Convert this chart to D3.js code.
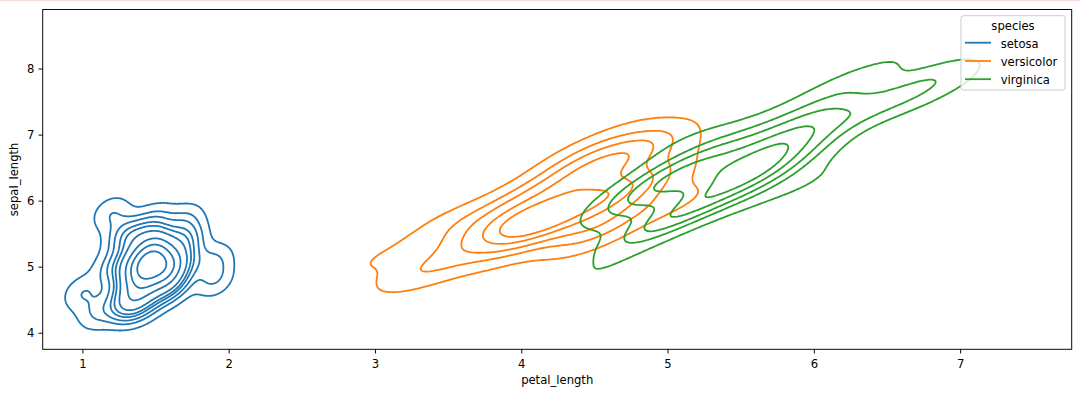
<!DOCTYPE html>
<html>
<head>
<meta charset="utf-8">
<script src="https://cdn.jsdelivr.net/npm/d3@7"></script>
<style>
  html, body { margin: 0; padding: 0; background: #fff; }
  svg { display: block; }
  text { font-family: "DejaVu Sans", sans-serif; fill: #000; }
</style>
</head>
<body>
<svg id="chart" width="1080" height="396"></svg>
<script>
// ---- Data: iris petal_length / sepal_length by species ----
const speciesNames = ["setosa", "versicolor", "virginica"];
const speciesColors = ["#1f77b4", "#ff7f0e", "#2ca02c"];

const setosaPetal = [1.4,1.4,1.3,1.5,1.4,1.7,1.4,1.5,1.4,1.5,1.5,1.6,1.4,1.1,1.2,1.5,1.3,1.4,1.7,1.5,1.7,1.5,1.0,1.7,1.9,1.6,1.6,1.5,1.4,1.6,1.6,1.5,1.5,1.4,1.5,1.2,1.3,1.4,1.3,1.5,1.3,1.3,1.3,1.6,1.9,1.4,1.6,1.4,1.5,1.4];
const setosaSepal = [5.1,4.9,4.7,4.6,5.0,5.4,4.6,5.0,4.4,4.9,5.4,4.8,4.8,4.3,5.8,5.7,5.4,5.1,5.7,5.1,5.4,5.1,4.6,5.1,4.8,5.0,5.0,5.2,5.2,4.7,4.8,5.4,5.2,5.5,4.9,5.0,5.5,4.9,4.4,5.1,5.0,4.5,4.4,5.0,5.1,4.8,5.1,4.6,5.3,5.0];

const versicolorPetal = [4.7,4.5,4.9,4.0,4.6,4.5,4.7,3.3,4.6,3.9,3.5,4.2,4.0,4.7,3.6,4.4,4.5,4.1,4.5,3.9,4.8,4.0,4.9,4.7,4.3,4.4,4.8,5.0,4.5,3.5,3.8,3.7,3.9,5.1,4.5,4.5,4.7,4.4,4.1,4.0,4.4,4.6,4.0,3.3,4.2,4.2,4.2,4.3,3.0,4.1];
const versicolorSepal = [7.0,6.4,6.9,5.5,6.5,5.7,6.3,4.9,6.6,5.2,5.0,5.9,6.0,6.1,5.6,6.7,5.6,5.8,6.2,5.6,5.9,6.1,6.3,6.1,6.4,6.6,6.8,6.7,6.0,5.7,5.5,5.5,5.8,6.0,5.4,6.0,6.7,6.3,5.6,5.5,5.5,6.1,5.8,5.0,5.6,5.7,5.7,6.2,5.1,5.7];

const virginicaPetal = [6.0,5.1,5.9,5.6,5.8,6.6,4.5,6.3,5.8,6.1,5.1,5.3,5.5,5.0,5.1,5.3,5.5,6.7,6.9,5.0,5.7,4.9,6.7,4.9,5.7,6.0,4.8,4.9,5.6,5.8,6.1,6.4,5.6,5.1,5.6,6.1,5.6,5.5,4.8,5.4,5.6,5.1,5.1,5.9,5.7,5.2,5.0,5.2,5.4,5.1];
const virginicaSepal = [6.3,5.8,7.1,6.3,6.5,7.6,4.9,7.3,6.7,7.2,6.5,6.4,6.8,5.7,5.8,6.4,6.5,7.7,7.7,6.0,6.9,5.6,7.7,6.3,6.7,7.2,6.2,6.1,6.4,7.2,7.4,7.9,6.4,6.3,6.1,7.7,6.3,6.4,6.0,6.9,6.7,6.9,5.8,6.8,6.7,6.7,6.3,6.5,6.2,5.9];

const xTickValues = [1, 2, 3, 4, 5, 6, 7];
const yTickValues = [4, 5, 6, 7, 8];
const levelProportions = [0.05, 0.15556, 0.26111, 0.36667, 0.47222, 0.57778, 0.68333, 0.78889, 0.89444, 1.0];

const groups = [
  { name: speciesNames[0], color: speciesColors[0], x: setosaPetal, y: setosaSepal },
  { name: speciesNames[1], color: speciesColors[1], x: versicolorPetal, y: versicolorSepal },
  { name: speciesNames[2], color: speciesColors[2], x: virginicaPetal, y: virginicaSepal }
];

// ---- Gaussian KDE (Scott bandwidth, full covariance), seaborn-like grid ----
const G = 200, CUT = 3;
const totalN = d3.sum(groups, g => g.x.length);
groups.forEach(g => {
  const xs = g.x, ys = g.y, n = xs.length;
  const mx = d3.mean(xs), my = d3.mean(ys);
  let sxx = 0, syy = 0, sxy = 0;
  for (let i = 0; i < n; i++) {
    const dx = xs[i] - mx, dy = ys[i] - my;
    sxx += dx * dx; syy += dy * dy; sxy += dx * dy;
  }
  sxx /= (n - 1); syy /= (n - 1); sxy /= (n - 1);
  const f2 = Math.pow(n, -2 / 6);
  const a = sxx * f2, b = sxy * f2, c = syy * f2;
  const det = a * c - b * b;
  const ia = c / det, ib = -b / det, ic = a / det;
  const norm = 1 / (2 * Math.PI * Math.sqrt(det) * n) * (n / totalN);
  const bwx = Math.sqrt(a), bwy = Math.sqrt(c);
  g.x0 = d3.min(xs) - CUT * bwx; g.x1 = d3.max(xs) + CUT * bwx;
  g.y0 = d3.min(ys) - CUT * bwy; g.y1 = d3.max(ys) + CUT * bwy;
  g.sx = (g.x1 - g.x0) / (G - 1); g.sy = (g.y1 - g.y0) / (G - 1);
  const vals = new Float64Array(G * G);
  for (let j = 0; j < G; j++) {
    const yv = g.y0 + j * g.sy;
    for (let i = 0; i < G; i++) {
      const xv = g.x0 + i * g.sx;
      let s = 0;
      for (let k = 0; k < n; k++) {
        const dx = xv - xs[k], dy = yv - ys[k];
        s += Math.exp(-0.5 * (ia * dx * dx + 2 * ib * dx * dy + ic * dy * dy));
      }
      vals[j * G + i] = s * norm;
    }
  }
  g.values = vals;
  g.max = d3.max(vals);
});

// iso-proportion -> iso-density levels (common across hues)
const allVals = [];
groups.forEach(g => { for (const v of g.values) allVals.push(v); });
allVals.sort((p, q) => q - p);
const cum = new Float64Array(allVals.length);
let acc = 0;
for (let i = 0; i < allVals.length; i++) { acc += allVals[i]; cum[i] = acc; }
for (let i = 0; i < cum.length; i++) cum[i] /= acc;
const levels = levelProportions.map(p => {
  const idx = d3.bisectLeft(cum, 1 - p);
  return allVals[Math.min(idx, allVals.length - 1)];
});

// ---- Layout ----
const svg = d3.select("#chart");
const L = 42.7, R = 1071.7, T = 9.5, B = 349.3;

const x = d3.scaleLinear()
  .domain([d3.min(groups, g => g.x0), d3.max(groups, g => g.x1)])
  .range([L, R]);
const y = d3.scaleLinear()
  .domain([d3.min(groups, g => g.y0), d3.max(groups, g => g.y1)])
  .range([B, T]);

// faint top line seen in the reference
svg.append("rect").attr("x", 0).attr("y", 0).attr("width", 1080).attr("height", 1.2)
  .attr("fill", "#fbdada");

svg.append("defs").append("clipPath").attr("id", "clip")
  .append("rect").attr("x", L).attr("y", T).attr("width", R - L).attr("height", B - T);

const plot = svg.append("g").attr("clip-path", "url(#clip)");
const line = d3.line().curve(d3.curveLinearClosed);

groups.forEach(g => {
  const th = levels.filter(l => l < g.max);
  const cs = d3.contours().size([G, G]).smooth(true).thresholds(th)(g.values);
  const gg = plot.append("g");
  cs.forEach(mp => {
    mp.coordinates.forEach(poly => {
      poly.forEach(ring => {
        const pts = ring.map(p => [x(g.x0 + (p[0] - 0.5) * g.sx), y(g.y0 + (p[1] - 0.5) * g.sy)]);
        gg.append("path").attr("d", line(pts))
          .attr("fill", "none").attr("stroke", g.color)
          .attr("stroke-width", 1.8).attr("stroke-linejoin", "round");
      });
    });
  });
});

// ---- Axes ----
const fs = 11.6;
const xAxis = svg.append("g").attr("transform", `translate(0,${B})`)
  .call(d3.axisBottom(x).tickValues(xTickValues).tickFormat(d3.format("d")).tickSize(4.2).tickPadding(4.2));
const yAxis = svg.append("g").attr("transform", `translate(${L},0)`)
  .call(d3.axisLeft(y).tickValues(yTickValues).tickFormat(d3.format("d")).tickSize(4.2).tickPadding(4.2));
[xAxis, yAxis].forEach(a => {
  a.select(".domain").remove();
  a.selectAll(".tick line").attr("stroke", "#000").attr("stroke-width", 0.96);
  a.selectAll(".tick text").attr("font-size", fs).attr("font-family", "DejaVu Sans").attr("fill", "#000");
});
xAxis.selectAll(".tick text").attr("y", 19.2).attr("dy", 0);

// spines
svg.append("rect").attr("x", L).attr("y", T).attr("width", R - L).attr("height", B - T)
  .attr("fill", "none").attr("stroke", "#000").attr("stroke-width", 0.96);

// axis labels
svg.append("text").attr("x", (L + R) / 2).attr("y", 383.5).attr("text-anchor", "middle")
  .attr("font-size", fs).text("petal_length");
svg.append("text").attr("transform", `translate(17.5,${(T + B) / 2}) rotate(-90)`)
  .attr("text-anchor", "middle").attr("font-size", fs).text("sepal_length");

// ---- Legend ----
const lg = svg.append("g");
lg.append("rect").attr("x", 961).attr("y", 15.7).attr("width", 104).attr("height", 74.3).attr("rx", 2.5)
  .attr("fill", "#fff").attr("fill-opacity", 0.8).attr("stroke", "#cccccc").attr("stroke-width", 1);
lg.append("text").attr("x", 1013).attr("y", 29.8).attr("text-anchor", "middle")
  .attr("font-size", fs).text("species");
const handleY = [42.7, 61, 79.2];
groups.forEach((g, i) => {
  lg.append("line").attr("x1", 965).attr("x2", 991).attr("y1", handleY[i]).attr("y2", handleY[i])
    .attr("stroke", g.color).attr("stroke-width", 1.8);
  lg.append("text").attr("x", 1000.7).attr("y", handleY[i] + 4.9).attr("font-size", fs).text(g.name);
});
</script>
</body>
</html>
